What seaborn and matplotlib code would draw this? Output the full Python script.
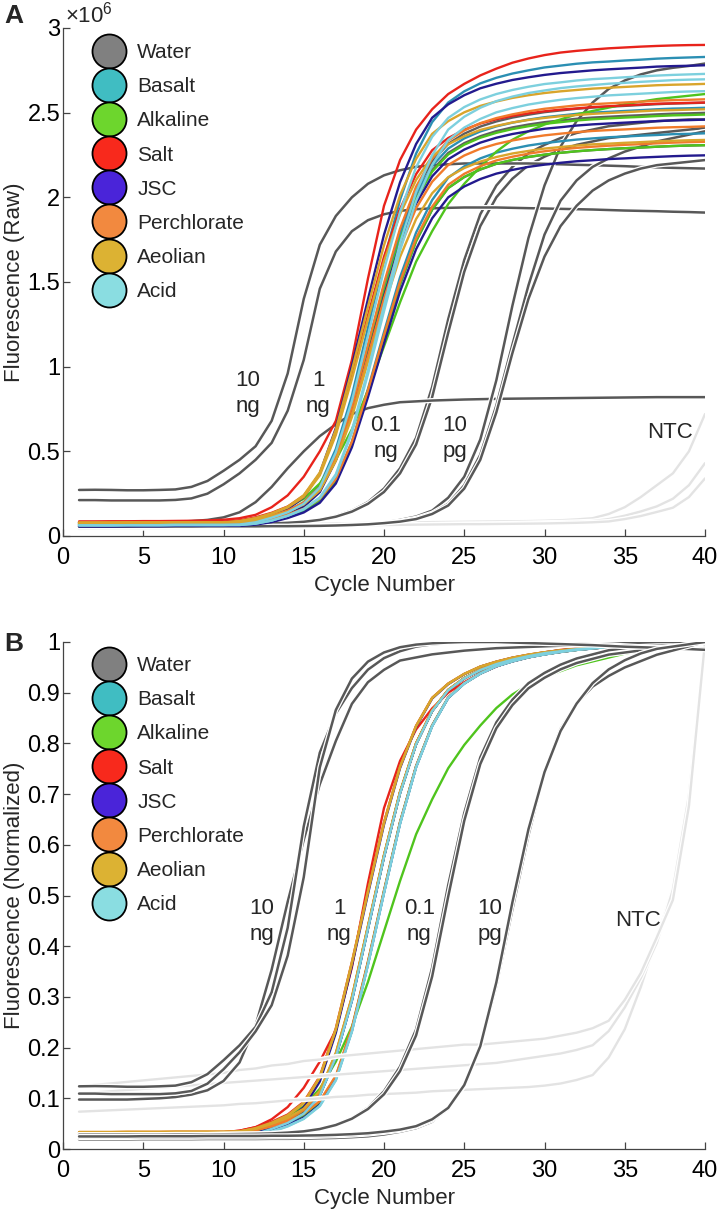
import matplotlib
matplotlib.use("Agg")
import matplotlib.pyplot as plt
import matplotlib.patheffects as pe
from matplotlib.lines import Line2D
from matplotlib.ticker import FuncFormatter, MultipleLocator
import pandas as pd
import seaborn as sns

# ---------------- data (fluorescence in units of 1e4, cycles 1..40) ----------------
cycles = list(range(1, 41))

water_1 = [7.3, 7.3, 7.3, 7.4, 7.4, 7.4, 7.5, 7.5, 7.5, 7.5, 7.7, 9.0, 11.5, 14.5, 19.2, 28.1, 47.5, 75.8, 111.9, 147.9, 180, 204.6, 221.2, 231.6, 237.6, 241.8, 244.8, 247.1, 248.8, 250.3, 251.3, 252.3, 253, 253.5, 254, 254.5, 255, 255.4, 255.6, 255.9]
water_2 = [6.8, 6.8, 6.8, 6.9, 6.9, 6.9, 7.0, 7.0, 7.0, 7.0, 7.2, 8.5, 10.9, 13.8, 18.4, 27.2, 46.1, 73.8, 109.1, 144.3, 175.6, 199.7, 216, 226.2, 232, 236.1, 239.1, 241.3, 243, 244.4, 245.4, 246.4, 247.1, 247.6, 248.1, 248.5, 249, 249.4, 249.6, 249.9]
water_3 = [6.8, 6.8, 6.8, 6.9, 6.9, 6.9, 7.0, 7.0, 7.0, 7.0, 7.0, 7.7, 9.2, 11.7, 15.1, 20.9, 32.5, 54.5, 84.7, 117.2, 148.6, 174.1, 192.7, 205.5, 212, 216.4, 219.8, 222, 223.8, 225.2, 226.3, 227.2, 227.9, 228.5, 229, 229.4, 229.9, 230.3, 230.6, 230.8]
basalt_1 = [6.8, 6.8, 6.8, 6.9, 6.9, 6.9, 7.0, 7.0, 7.0, 7.0, 7.3, 8.7, 11.4, 14.7, 20.0, 29.9, 51.4, 82.9, 122.9, 162.9, 198.5, 225.9, 244.4, 256, 262.6, 267.3, 270.6, 273.1, 275, 276.7, 277.8, 278.9, 279.7, 280.2, 280.8, 281.3, 281.9, 282.3, 282.6, 282.9]
basalt_2 = [6.3, 6.3, 6.3, 6.4, 6.4, 6.4, 6.5, 6.5, 6.5, 6.5, 6.7, 8.0, 10.4, 13.4, 18.1, 27, 46.2, 74.3, 110, 145.8, 177.6, 202, 218.5, 228.8, 234.8, 238.9, 241.9, 244.1, 245.9, 247.3, 248.3, 249.3, 250, 250.5, 251, 251.5, 252, 252.4, 252.6, 252.9]
basalt_3 = [6.3, 6.3, 6.3, 6.4, 6.4, 6.4, 6.5, 6.5, 6.5, 6.5, 6.5, 7.2, 8.8, 11.4, 14.8, 20.9, 32.9, 55.6, 86.8, 120.4, 152.8, 179.2, 198.4, 211.6, 218.3, 223, 226.4, 228.7, 230.6, 232, 233.1, 234.1, 234.8, 235.5, 235.9, 236.4, 236.8, 237.3, 237.5, 237.8]
alkaline_1 = [7.5, 7.5, 7.5, 7.6, 7.6, 7.6, 7.7, 7.7, 7.8, 8, 9, 10.5, 13, 17, 22, 31, 45, 63, 86, 112, 138, 162, 180, 196, 208, 218, 227, 234, 239, 243, 246, 249, 251, 253, 255, 256.5, 258, 259, 260, 261]
alkaline_2 = [7.3, 7.3, 7.3, 7.4, 7.4, 7.4, 7.5, 7.5, 7.5, 7.5, 7.7, 9.0, 11.4, 14.3, 18.9, 27.5, 46.4, 73.9, 108.9, 143.9, 175.1, 199, 215.2, 225.3, 231.1, 235.2, 238.1, 240.3, 242, 243.4, 244.4, 245.4, 246.1, 246.6, 247.1, 247.5, 248, 248.4, 248.6, 248.9]
alkaline_3 = [7.3, 7.3, 7.3, 7.4, 7.4, 7.4, 7.5, 7.5, 7.5, 7.5, 7.5, 8.2, 9.7, 12.2, 15.5, 21.4, 33, 54.9, 85.1, 117.5, 148.8, 174.2, 192.8, 205.5, 212, 216.5, 219.8, 222.1, 223.9, 225.2, 226.3, 227.2, 227.9, 228.5, 229, 229.4, 229.9, 230.3, 230.6, 230.8]
salt_1 = [8.6, 8.6, 8.7, 8.7, 8.8, 8.8, 8.9, 9.0, 9.2, 9.6, 10.5, 12.5, 17, 24, 35, 50, 68, 104, 152, 195, 222, 240, 252, 261, 267, 272, 276, 279.5, 282, 284, 285.5, 286.5, 287.3, 288, 288.5, 289, 289.4, 289.7, 289.9, 290]
salt_2 = [8.3, 8.3, 8.3, 8.4, 8.4, 8.4, 8.5, 8.5, 8.5, 8.5, 9.2, 11, 13.7, 17.4, 23.8, 36.7, 61, 94.4, 130.3, 164.9, 193.1, 213.7, 227.8, 235, 239.9, 243.6, 246.1, 248.1, 249.6, 250.8, 251.8, 252.5, 253.3, 253.8, 254.3, 254.8, 255.3, 255.5, 255.8, 256]
jsc_1 = [5.8, 5.8, 5.8, 5.9, 5.9, 5.9, 6.0, 6.0, 6.0, 6, 6.8, 8.7, 11.7, 15.8, 22.9, 37, 63.7, 100.4, 139.8, 177.9, 208.9, 231.5, 247, 254.9, 260.3, 264.4, 267.1, 269.3, 270.9, 272.3, 273.4, 274.2, 275, 275.6, 276.1, 276.6, 277.2, 277.5, 277.7, 278]
jsc_2 = [5.8, 5.8, 5.8, 5.9, 5.9, 5.9, 6.0, 6.0, 6.0, 6, 6.2, 7.4, 9.8, 12.7, 17.3, 25.9, 44.6, 72, 106.8, 141.6, 172.6, 196.3, 212.4, 222.5, 228.2, 232.3, 235.2, 237.4, 239, 240.5, 241.4, 242.4, 243.1, 243.6, 244.1, 244.6, 245, 245.4, 245.6, 245.9]
jsc_3 = [5.8, 5.8, 5.8, 5.9, 5.9, 5.9, 6.0, 6.0, 6.0, 6, 6, 6.7, 8.2, 10.6, 13.9, 19.6, 31, 52.4, 82, 113.7, 144.4, 169.4, 187.6, 200, 206.4, 210.8, 214, 216.2, 218, 219.3, 220.4, 221.3, 221.9, 222.6, 223, 223.5, 223.9, 224.3, 224.6, 224.8]
perchlorate_1 = [7.8, 7.8, 7.8, 7.9, 7.9, 7.9, 8, 8, 8, 8, 8.3, 9.5, 12, 15, 19.8, 28.8, 48.3, 76.8, 113, 149.3, 181.5, 206.3, 223, 233.5, 239.5, 243.8, 246.8, 249, 250.8, 252.3, 253.3, 254.3, 255, 255.5, 256, 256.5, 257, 257.4, 257.6, 257.9]
perchlorate_2 = [7.8, 7.8, 7.8, 7.9, 7.9, 7.9, 8, 8, 8, 8, 8.2, 9.4, 11.7, 14.6, 19, 27.4, 45.7, 72.4, 106.3, 140.2, 170.4, 193.6, 209.2, 219.1, 224.7, 228.7, 231.5, 233.6, 235.2, 236.6, 237.6, 238.5, 239.2, 239.7, 240.1, 240.6, 241.1, 241.4, 241.6, 241.9]
perchlorate_3 = [7.8, 7.8, 7.8, 7.9, 7.9, 7.9, 8, 8, 8, 8, 8, 8.7, 10.3, 12.7, 16.1, 22, 33.7, 55.7, 86.1, 118.7, 150.2, 175.9, 194.5, 207.4, 213.9, 218.4, 221.8, 224, 225.8, 227.2, 228.3, 229.2, 229.9, 230.5, 231, 231.4, 231.9, 232.3, 232.6, 232.8]
aeolian_1 = [7.8, 7.8, 7.8, 7.9, 7.9, 7.9, 8, 8, 8, 8, 8.8, 10.6, 13.4, 17.3, 24.1, 37.5, 62.9, 97.9, 135.4, 171.7, 201.2, 222.7, 237.5, 245, 250.2, 254, 256.6, 258.7, 260.3, 261.6, 262.6, 263.4, 264.2, 264.7, 265.2, 265.7, 266.2, 266.5, 266.7, 267]
aeolian_2 = [7.8, 7.8, 7.8, 7.9, 7.9, 7.9, 8, 8, 8, 8, 8.7, 10.4, 13.1, 16.8, 23.1, 35.8, 59.7, 92.7, 128, 162.2, 190, 210.3, 224.2, 231.3, 236.1, 239.8, 242.2, 244.2, 245.7, 246.9, 247.9, 248.6, 249.3, 249.8, 250.3, 250.8, 251.3, 251.5, 251.8, 252]
aeolian_3 = [7.8, 7.8, 7.8, 7.9, 7.9, 7.9, 8, 8, 8, 8, 8.2, 9.4, 11.6, 14.3, 18.6, 26.8, 44.4, 70.2, 102.9, 135.7, 164.8, 187.2, 202.4, 211.9, 217.3, 221.1, 223.8, 225.9, 227.4, 228.8, 229.7, 230.6, 231.3, 231.7, 232.2, 232.6, 233.1, 233.4, 233.7, 233.9]
acid_1 = [6.3, 6.3, 6.3, 6.4, 6.4, 6.4, 6.5, 6.5, 6.5, 6.5, 6.8, 8.1, 10.8, 14, 19, 28.6, 49.4, 79.8, 118.4, 157.1, 191.4, 217.8, 235.7, 246.9, 253.3, 257.8, 261, 263.4, 265.3, 266.9, 267.9, 269, 269.8, 270.3, 270.9, 271.4, 271.9, 272.3, 272.6, 272.9]
acid_2 = [6.3, 6.3, 6.3, 6.4, 6.4, 6.4, 6.5, 6.5, 6.5, 6.5, 6.5, 7.3, 9.1, 12, 16, 22.8, 36.5, 62.4, 97.9, 136.1, 173, 203.1, 224.9, 240, 247.6, 252.9, 256.8, 259.5, 261.6, 263.1, 264.5, 265.5, 266.3, 267.1, 267.6, 268.2, 268.7, 269.2, 269.5, 269.7]
acid_3 = [6.3, 6.3, 6.3, 6.4, 6.4, 6.4, 6.5, 6.5, 6.5, 6.5, 6.5, 7.3, 9.1, 11.9, 15.7, 22.4, 35.7, 60.9, 95.5, 132.7, 168.6, 197.8, 219.1, 233.8, 241.2, 246.3, 250.2, 252.7, 254.8, 256.3, 257.6, 258.6, 259.4, 260.2, 260.7, 261.2, 261.7, 262.2, 262.5, 262.7]

# DNA dilution series in water
ng10_a = [27.2, 27.3, 27.2, 27.0, 27.0, 27.2, 27.5, 29, 32.5, 38.5, 45, 53, 68, 96, 140, 172, 189, 200, 208, 213, 216, 218, 219, 219.5, 220, 220, 220, 220, 220, 219.8, 219.5, 219.2, 219, 218.7, 218.4, 218, 217.7, 217.4, 217.2, 217]
ng10_b = [21.2, 21.2, 21.0, 21.0, 21.0, 21.0, 21.3, 22.2, 25, 30.5, 37, 45, 55, 74, 104, 146, 168, 180, 186.5, 190, 192, 193, 193.5, 193.8, 194, 194, 194, 193.8, 193.6, 193.4, 193.2, 193, 192.8, 192.5, 192.2, 192, 191.8, 191.5, 191.3, 191]
ng1_a = [8, 8, 8, 8, 8.1, 8.2, 8.4, 8.8, 9.5, 11, 14, 20, 29, 40, 50, 59, 66, 72, 75.5, 77.5, 79, 79.5, 80, 80.3, 80.6, 80.8, 81, 81.1, 81.2, 81.3, 81.4, 81.5, 81.6, 81.7, 81.8, 81.9, 82, 82, 82, 82]
ng01_a = [7.0, 7.0, 7.0, 7.0, 7.0, 7.0, 7.1, 7.1, 7.1, 7.2, 7.3, 7.4, 7.6, 8, 8.6, 9.8, 11.8, 15, 20, 28, 40, 58, 88, 128, 163, 190, 207, 218, 226, 231, 235, 238, 240, 242, 243, 244, 245, 245.5, 246, 246]
ng01_b = [6.8, 6.8, 6.8, 6.8, 6.8, 6.8, 6.9, 6.9, 6.9, 7.0, 7.1, 7.2, 7.4, 7.8, 8.4, 9.5, 11.4, 14.4, 19, 26, 37, 54, 82, 120, 156, 183, 200, 211, 219, 224, 228, 231, 233, 235, 236, 237, 238, 239, 240, 241]
pg10_a = [5.3, 5.3, 5.3, 5.3, 5.4, 5.4, 5.4, 5.4, 5.5, 5.5, 5.5, 5.5, 5.6, 5.6, 5.7, 5.9, 6.1, 6.5, 7, 8, 9.5, 11.5, 15, 22.6, 35, 57, 92, 136, 176, 207, 230, 245, 256, 264, 269, 272.6, 275, 276.5, 277.6, 279]
pg10_b = [5.4, 5.4, 5.4, 5.4, 5.5, 5.5, 5.5, 5.5, 5.6, 5.6, 5.6, 5.6, 5.7, 5.7, 5.8, 6.0, 6.2, 6.5, 7, 7.8, 8.8, 10.5, 13.5, 19, 30, 48, 77, 113, 148, 178, 198, 210, 218, 223, 227, 230, 233, 235, 237, 239]
pg10_c = [5.5, 5.5, 5.5, 5.5, 5.6, 5.6, 5.6, 5.6, 5.7, 5.7, 5.7, 5.7, 5.8, 5.8, 5.9, 6.0, 6.2, 6.5, 6.9, 7.6, 8.5, 10, 13, 18, 28, 45, 73, 108, 140, 165, 183, 195, 204, 210, 214, 217, 219, 220, 221, 222]

# no-template controls
ntc_1 = [5.3, 5.4, 5.5, 5.6, 5.7, 5.8, 5.9, 6.0, 6.1, 6.2, 6.4, 6.5, 6.7, 6.9, 7.0, 7.2, 7.4, 7.5, 7.7, 7.8, 7.9, 8.0, 8.2, 8.3, 8.4, 8.5, 8.6, 8.7, 8.8, 9.0, 9.3, 9.8, 10.5, 13, 17, 23, 30, 37, 50, 72]
ntc_2 = [4.7, 4.8, 4.9, 5.0, 5.1, 5.2, 5.3, 5.4, 5.5, 5.6, 5.7, 5.8, 5.9, 6.0, 6.1, 6.2, 6.3, 6.4, 6.5, 6.6, 6.7, 6.8, 6.9, 7.0, 7.1, 7.2, 7.3, 7.5, 7.7, 7.9, 8.1, 8.4, 8.8, 10, 12, 14.5, 17.5, 22, 30, 43]
ntc_3 = [4.2, 4.3, 4.4, 4.5, 4.6, 4.7, 4.8, 4.9, 5.0, 5.1, 5.3, 5.4, 5.6, 5.7, 5.9, 6.0, 6.2, 6.3, 6.4, 6.5, 6.6, 6.7, 6.8, 6.9, 7.0, 7.0, 7.1, 7.2, 7.3, 7.4, 7.6, 7.8, 8.1, 8.6, 10, 11.8, 14.2, 16.7, 23, 34]

samples = ["Water", "Basalt", "Alkaline", "Salt", "JSC", "Perchlorate", "Aeolian", "Acid"]
sample_curves = {
    "Water": [water_1, water_2, water_3],
    "Basalt": [basalt_1, basalt_2, basalt_3],
    "Alkaline": [alkaline_1, alkaline_2, alkaline_3],
    "Salt": [salt_1, salt_2],
    "JSC": [jsc_1, jsc_2, jsc_3],
    "Perchlorate": [perchlorate_1, perchlorate_2, perchlorate_3],
    "Aeolian": [aeolian_1, aeolian_2, aeolian_3],
    "Acid": [acid_1, acid_2, acid_3],
}
dilution_curves = {
    "10 ng": [ng10_a, ng10_b],
    "1 ng": [ng1_a],
    "0.1 ng": [ng01_a, ng01_b],
    "10 pg": [pg10_a, pg10_b, pg10_c],
}
ntc_curves = {"NTC": [ntc_1, ntc_2, ntc_3]}

# ---------------- styling ----------------
line_palette = {"Water": "#5e5e5e", "Basalt": "#2b8fb3", "Alkaline": "#4fc41d", "Salt": "#e8231b",
                "JSC": "#231a8e", "Perchlorate": "#f17b2b", "Aeolian": "#d9a52c", "Acid": "#7dd0de"}
legend_palette = {"Water": "#808080", "Basalt": "#40bdc2", "Alkaline": "#6dd62d", "Salt": "#f8291c",
                  "JSC": "#4a24d9", "Perchlorate": "#f2893f", "Aeolian": "#dcb233", "Acid": "#8adde1"}
DARK = "#585858"
NTC_COLOR = "#e3e3e3"
AX_COLOR = "#444444"


def long_frame(curve_map, group):
    rows = []
    for name, curves in curve_map.items():
        for i, vals in enumerate(curves):
            for c, v in zip(cycles, vals):
                rows.append((group, name, f"{group}-{name}-{i}", c, v * 1e4))
    return pd.DataFrame(rows, columns=["group", "sample", "curve", "cycle", "fluor"])


df = pd.concat([long_frame(sample_curves, "soil"),
                long_frame(dilution_curves, "dil"),
                long_frame(ntc_curves, "ntc")], ignore_index=True)
df["raw_m"] = df["fluor"] / 1e6
df["norm"] = df["fluor"] / df.groupby("curve")["fluor"].transform("max")

sns.set_style("ticks", {"xtick.direction": "in", "ytick.direction": "in"})
plt.rcParams["font.family"] = ["Liberation Sans", "DejaVu Sans"]
plt.rcParams["mathtext.fontset"] = "custom"
plt.rcParams["mathtext.rm"] = "Liberation Sans"
FS = 16
TFS = 17
LFS = 15

fig = plt.figure(figsize=(7.17, 12.11), dpi=100)
W, H = 717.0, 1211.0
axA = fig.add_axes([63 / W, (H - 536) / H, 642 / W, 508 / H])
axB = fig.add_axes([63 / W, (H - 1149) / H, 642 / W, 507 / H])

halo = [pe.Stroke(linewidth=3.6, foreground="white"), pe.Normal()]
soil = df[df.group == "soil"]
dil = df[df.group == "dil"]
ntc = df[df.group == "ntc"]


def draw(ax, ycol, z_soil, z_ntc, z_dil):
    sns.lineplot(data=ntc, x="cycle", y=ycol, units="curve", estimator=None, color=NTC_COLOR,
                 lw=1.7, path_effects=halo, zorder=z_ntc, legend=False, ax=ax)
    sns.lineplot(data=dil, x="cycle", y=ycol, units="curve", estimator=None, color=DARK,
                 lw=1.8, path_effects=halo, zorder=z_dil, legend=False, ax=ax)
    sns.lineplot(data=soil, x="cycle", y=ycol, hue="sample", hue_order=samples, units="curve",
                 estimator=None, palette=line_palette, lw=1.7, zorder=z_soil, legend=False, ax=ax)


draw(axA, "raw_m", 3, 1, 2)
draw(axB, "norm", 2, 3, 4)

fmt = FuncFormatter(lambda v, p: f"{v:g}")
for ax, ymax, ystep, ylab, leg_y in [(axA, 3.0, 0.5, "Fluorescence (Raw)", 0.970),
                                     (axB, 1.0, 0.1, "Fluorescence (Normalized)", 0.972)]:
    ax.set_xlim(0, 40)
    ax.set_ylim(0, ymax)
    ax.xaxis.set_major_locator(MultipleLocator(5))
    ax.yaxis.set_major_locator(MultipleLocator(ystep))
    ax.xaxis.set_major_formatter(fmt)
    ax.yaxis.set_major_formatter(fmt)
    sns.despine(ax=ax)
    for s in ["left", "bottom"]:
        ax.spines[s].set_color(AX_COLOR)
        ax.spines[s].set_linewidth(0.9)
    ax.tick_params(direction="in", length=5, width=0.9, color=AX_COLOR, labelsize=TFS,
                   labelcolor="black")
    ax.tick_params(axis="x", pad=8)
    ax.tick_params(axis="y", pad=2)
    ax.set_xlabel("Cycle Number", fontsize=FS, labelpad=4)
    ax.set_ylabel(ylab, fontsize=FS, labelpad=2)
    handles = [Line2D([], [], ls="none", marker="o", markersize=24.5,
                      markerfacecolor=legend_palette[s], markeredgecolor="black",
                      markeredgewidth=1.3, label=s) for s in samples]
    ax.legend(handles=handles, loc="upper left", bbox_to_anchor=(0.046, leg_y),
              frameon=False, fontsize=LFS, borderpad=0, borderaxespad=0,
              handlelength=1.6, handletextpad=0.55, labelspacing=0.725)

axA.text(0.003, 1.0, r"$\times\mathregular{10^{6}}$", transform=axA.transAxes,
         ha="left", va="bottom", fontsize=FS)

lab_kw = dict(ha="center", va="center", fontsize=FS, linespacing=1.3)
for txt, x, y in [("10\nng", 11.5, 0.84), ("1\nng", 15.9, 0.84), ("0.1\nng", 20.1, 0.575),
                  ("10\npg", 24.4, 0.575)]:
    axA.text(x, y, txt, **lab_kw)
axA.text(37.8, 0.61, "NTC", **lab_kw)
for txt, x, y in [("10\nng", 12.4, 0.448), ("1\nng", 17.2, 0.448), ("0.1\nng", 22.2, 0.448),
                  ("10\npg", 26.6, 0.448)]:
    axB.text(x, y, txt, **lab_kw)
axB.text(35.8, 0.45, "NTC", **lab_kw)

fig.text(4 / W, 1 - 16 / H, "A", fontsize=19, fontweight="bold", ha="left", va="center")
fig.text(4 / W, 1 - 644 / H, "B", fontsize=19, fontweight="bold", ha="left", va="center")

fig.savefig("out.png", dpi=100)
